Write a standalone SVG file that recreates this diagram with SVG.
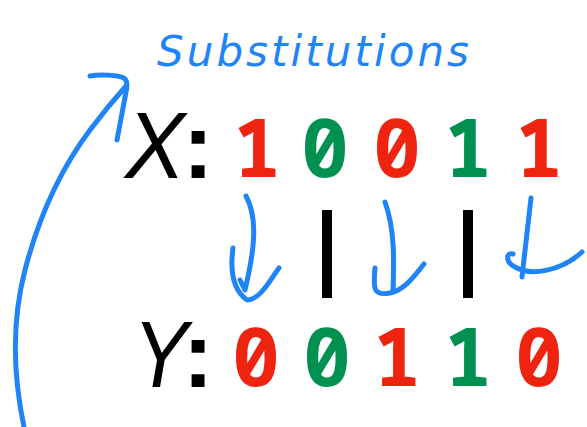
<svg xmlns="http://www.w3.org/2000/svg" width="587" height="427" viewBox="0 0 587 427">
<style>
.ink{fill:none;stroke:#1E84F8;stroke-width:5;stroke-linecap:round;stroke-linejoin:round}
.var{font-family:"Liberation Sans",Arial,sans-serif;font-style:italic;font-size:94px;fill:#000}
.col{font-family:"Liberation Sans",Arial,sans-serif;font-weight:bold;font-size:92px;fill:#000;text-anchor:middle}
.d{font-family:"Noto Sans Mono","DejaVu Sans Mono",monospace;font-weight:bold;font-size:80px;text-anchor:middle}
.r{fill:#EE2410}.g{fill:#009151}
.hand{font-family:"DejaVu Sans",sans-serif;font-style:italic;font-size:42px;fill:#1E84F8}
</style>
<rect width="587" height="427" fill="#fff"/>
<g id="title"><text class="hand" x="157" y="66" textLength="312" lengthAdjust="spacing">Substitutions</text></g>
<g id="x-row">
<text class="var" x="125" y="178" textLength="60" lengthAdjust="spacingAndGlyphs">X</text><text class="col" x="198" y="178">:</text>
<text class="d r" x="257" y="177">1</text><text class="d g" x="325" y="177">0</text><text class="d r" x="397" y="177">0</text><text class="d g" x="468" y="177">1</text><text class="d r" x="539" y="177">1</text>
</g>
<g id="y-row">
<text class="var" x="133" y="387" textLength="55" lengthAdjust="spacingAndGlyphs">Y</text><text class="col" x="198" y="387">:</text>
<text class="d r" x="256" y="386">0</text><text class="d g" x="327" y="386">0</text><text class="d r" x="397" y="386">1</text><text class="d g" x="468" y="386">1</text><text class="d r" x="539" y="386">0</text>
</g>
<g id="connectors">
<rect x="322" y="210" width="10" height="88" fill="#000"/>
<rect x="463" y="210" width="10" height="88" fill="#000"/>
<path class="ink" d="M246,196 C256,215 257,240 245,290 M240,280 L245,290 M233,248 C230,270 233,290 247,300 C260,300 270,280 279,268"/>
<path class="ink" d="M385,202 C395,230 394,260 393,292 M375,268 C373,290 374,296 390,293 C405,290 415,275 424,264"/>
<path class="ink" d="M531,198 L522,277 M513,254 C506,252 505,262 515,267 C530,276 560,272 582,252"/>
<path class="ink" d="M24,427 C12,370 12,320 25,270 C38,220 60,170 90,130 C105,110 118,95 126,86 M90,76 C100,74 118,75 124,78 C128,81 127,88 126,92 L117,140"/>
</g>
</svg>
